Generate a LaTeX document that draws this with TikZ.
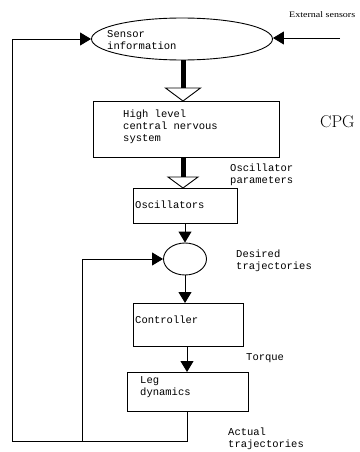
\documentclass[tikz,border=0pt]{standalone}
\usepackage{fontspec}
\setmonofont{Liberation Mono}
\newfontfamily\timesf{Liberation Serif}
\usetikzlibrary{shapes.geometric,arrows.meta}
\begin{document}
\begin{tikzpicture}[x=1pt,y=-1pt,
  box/.style={draw,line width=0.9pt,rectangle,inner sep=0pt,anchor=north west},
  oval/.style={draw,line width=0.9pt,ellipse,inner sep=0pt},
  txt/.style={font=\ttfamily\fontsize{10.5}{12}\selectfont,align=left,inner sep=0pt,anchor=west},
  lab/.style={font=\ttfamily\fontsize{10.5}{11.2}\selectfont,align=left,inner sep=0pt,anchor=north west},
  arr/.style={line width=0.9pt,-{Triangle[length=11pt,width=13pt]}},
  ln/.style={line width=0.9pt},
  stem/.style={line width=5pt},
  hollow/.style={draw,line width=0.9pt,fill=white}]
\useasboundingbox (0,0) rectangle (359,452);
% nodes
\node[oval,minimum width=181pt,minimum height=42pt] (sensor) at (182,39) {};
\node[txt] (sensortxt) at (107,40) {Sensor\\information};
\node[box,minimum width=186pt,minimum height=56pt] (hlc) at (93,101) {};
\node[txt,anchor=north west] (hlctxt) at (123,110) {High level\\central nervous\\system};
\node[box,minimum width=104pt,minimum height=35pt] (osc) at (133,188) {};
\node[txt] (osctxt) at (135,205) {Oscillators};
\node[oval,minimum width=43pt,minimum height=32pt] (sum) at (185,259) {};
\node[box,minimum width=110pt,minimum height=43pt] (ctrl) at (133,303) {};
\node[txt] (ctrltxt) at (135,320) {Controller};
\node[box,minimum width=121pt,minimum height=39pt] (leg) at (127,372) {};
\node[txt,anchor=north west] (legtxt) at (140,376) {Leg\\dynamics};
% labels
\node[inner sep=0pt,anchor=west] (ext) at (289,15) {\timesf\fontsize{8.5}{9}\selectfont\scalebox{1.18}[1]{External sensors}};
\node[inner sep=0pt,anchor=west,font=\fontsize{17}{18}\selectfont] (cpg) at (320,122) {CPG};
\node[lab] (oplab) at (230,164) {Oscillator\\parameters};
\node[lab] (dtlab) at (236,250) {Desired\\trajectories};
\node[lab] (tqlab) at (246,353) {Torque};
\node[lab] (atlab) at (228,428) {Actual\\trajectories};
% coordinates
\coordinate (extc) at (340,38);
\coordinate (outerc) at (12,441);
\coordinate (innerc) at (82,441);
\coordinate (t1) at (183,88);
\coordinate (t2) at (183,177);
% connectors
\draw[arr] (extc) -- (sensor.east |- extc);
\draw[stem] (sensor.south -| t1) -- (t1);
\draw[hollow] (t1) ++(-17.5,0) -- ++(35,0) -- (hlc.north -| t1) -- cycle;
\draw[stem] (hlc.south -| t2) -- (t2);
\draw[hollow] (t2) ++(-15,0) -- ++(30,0) -- (osc.north -| t2) -- cycle;
\draw[arr] (osc.south -| sum.north) -- (sum.north);
\draw[arr] (sum.south) -- (sum.south |- ctrl.north);
\draw[arr] (ctrl.south -| 187,0) -- (leg.north -| 187,0);
\draw[ln] (leg.south -| 187,0) |- (outerc);
\draw[arr] (outerc) |- (sensor.west);
\draw[arr] (innerc) |- (sum.west);
\end{tikzpicture}
\end{document}
